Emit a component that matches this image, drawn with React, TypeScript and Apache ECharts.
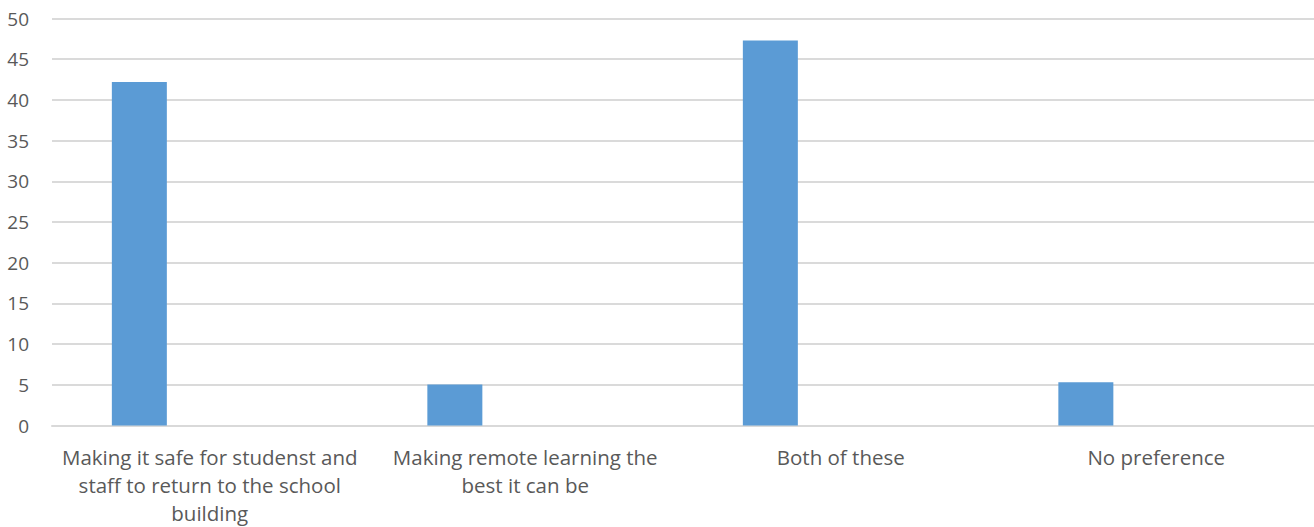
import React, { useEffect, useRef } from "react";
import * as echarts from "echarts";

const categories = [
  "Making it safe for studenst and\nstaff to return to the school\nbuilding",
  "Making remote learning the\nbest it can be",
  "Both of these",
  "No preference",
];
const values = [42.2, 5.05, 47.3, 5.3];
const emptySeries = [null, null, null, null];
const yTicks = { min: 0, max: 50, interval: 5 };

export default function App() {
  const ref = useRef<HTMLDivElement>(null);
  useEffect(() => {
    const chart = echarts.init(ref.current!, null, { renderer: "svg" });
    chart.setOption({
      animation: false,
      textStyle: { fontFamily: "Open Sans" },
      grid: { left: 52, right: 0, top: 18.5, bottom: 101.5, containLabel: false },
      xAxis: {
        type: "category",
        data: categories,
        axisTick: { show: false },
        axisLine: { lineStyle: { color: "#D9D9D9", width: 2 } },
        axisLabel: {
          color: "#595959",
          fontSize: 20.5,
          lineHeight: 28,
          margin: 17,
          interval: 0,
          align: "center",
        },
      },
      yAxis: {
        type: "value",
        min: yTicks.min,
        max: yTicks.max,
        interval: yTicks.interval,
        axisLine: { show: false },
        axisTick: { show: false },
        splitLine: { lineStyle: { color: "#DADADA", width: 2 } },
        axisLabel: { color: "#595959", fontSize: 19, margin: 23 },
      },
      series: [
        {
          type: "bar",
          data: values,
          barWidth: 55,
          barGap: "156%",
          itemStyle: { color: "#5B9BD5" },
        },
        {
          type: "bar",
          data: emptySeries,
          barWidth: 55,
          itemStyle: { color: "#ED7D31" },
        },
      ],
    });
    return () => chart.dispose();
  }, []);
  return (
    <div
      ref={ref}
      style={{ position: "fixed", left: 0, top: 0, width: 1314, height: 527, background: "#fff" }}
    />
  );
}
